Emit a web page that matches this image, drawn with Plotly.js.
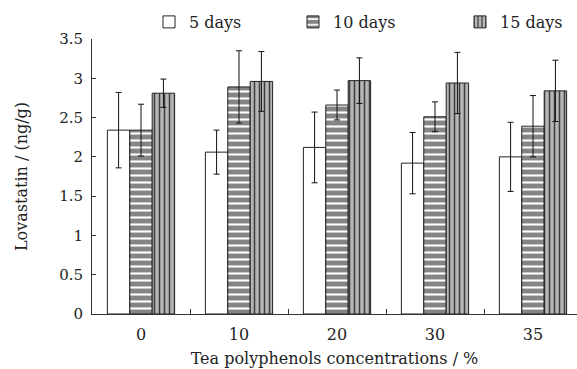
<!DOCTYPE html>
<html>
<head>
<meta charset="utf-8">
<script src="https://cdn.plot.ly/plotly-3.0.1.min.js"></script>
<style>html,body{margin:0;padding:0;background:#fff;}#chart{width:577px;height:369px;}</style>
</head>
<body>
<div id="chart"></div>
<script>
const categories = ["0", "10", "20", "30", "35"];
const seriesNames = ["5 days", "10 days", "15 days"];
const days5 = [2.34, 2.06, 2.12, 1.92, 2.00];
const days5Err = [0.48, 0.28, 0.45, 0.39, 0.44];
const days10 = [2.34, 2.89, 2.66, 2.51, 2.39];
const days10Err = [0.33, 0.46, 0.19, 0.19, 0.39];
const days15 = [2.81, 2.96, 2.97, 2.94, 2.84];
const days15Err = [0.18, 0.38, 0.29, 0.39, 0.39];
const yTicks = [0, 0.5, 1, 1.5, 2, 2.5, 3, 3.5];

const FONT = "DejaVu Serif, Liberation Serif, serif";
const errStyle = {type: "data", visible: true, color: "#111", thickness: 1, width: 3};

const traces = [
  {
    type: "bar", name: seriesNames[0], x: categories, y: days5,
    error_y: Object.assign({array: days5Err}, errStyle),
    marker: {color: "#ffffff", line: {color: "#222", width: 1}},
    legend: "legend"
  },
  {
    type: "bar", name: seriesNames[1], x: categories, y: days10,
    error_y: Object.assign({array: days10Err}, errStyle),
    marker: {color: "#858585", line: {color: "#222", width: 1},
      pattern: {shape: "-", fgcolor: "#ffffff", bgcolor: "#858585", size: 7, solidity: 0.3}},
    legend: "legend2"
  },
  {
    type: "bar", name: seriesNames[2], x: categories, y: days15,
    error_y: Object.assign({array: days15Err}, errStyle),
    marker: {color: "#b5b5b5", line: {color: "#222", width: 1},
      pattern: {shape: "|", fgcolor: "#3c3c3c", bgcolor: "#b5b5b5", size: 5, solidity: 0.3}},
    legend: "legend3"
  }
];

const legBase = {
  orientation: "h", xref: "container", yref: "container",
  yanchor: "middle", xanchor: "left", y: 1 - 22/369,
  bgcolor: "rgba(0,0,0,0)", borderwidth: 0,
  font: {family: FONT, size: 16, color: "#222"}
};

const layout = {
  width: 577, height: 369,
  margin: {l: 92, r: 0, t: 24, b: 55},
  paper_bgcolor: "#fff", plot_bgcolor: "#fff",
  font: {family: FONT, size: 15, color: "#222"},
  barmode: "group", bargap: 0.314, bargroupgap: 0,
  showlegend: true,
  legend: Object.assign({}, legBase, {x: 149/577}),
  legend2: Object.assign({}, legBase, {x: 293/577}),
  legend3: Object.assign({}, legBase, {x: 460/577}),
  xaxis: {
    type: "category", range: [-0.5, 4.449],
    showline: true, linecolor: "#333", linewidth: 1,
    ticks: "inside", tickson: "boundaries", ticklen: 5, tickcolor: "#333",
    showgrid: false, zeroline: false,
    tickfont: {family: FONT, size: 16, color: "#222"},
    ticklabelstandoff: 6,
    title: {text: "Tea polyphenols concentrations / %", font: {family: FONT, size: 16, color: "#222"}, standoff: 9}
  },
  yaxis: {
    range: [0, 3.5], tickvals: yTicks, ticktext: yTicks.map(String),
    showline: true, linecolor: "#333", linewidth: 1,
    ticks: "inside", ticklen: 4, tickcolor: "#333",
    showgrid: false, zeroline: false,
    tickfont: {family: FONT, size: 15, color: "#222"},
    ticklabelstandoff: 5,
    title: {text: "Lovastatin / (ng/g)", font: {family: FONT, size: 16, color: "#222"}, standoff: 27}
  }
};

Plotly.newPlot("chart", traces, layout, {displayModeBar: false, staticPlot: true});
</script>
</body>
</html>
